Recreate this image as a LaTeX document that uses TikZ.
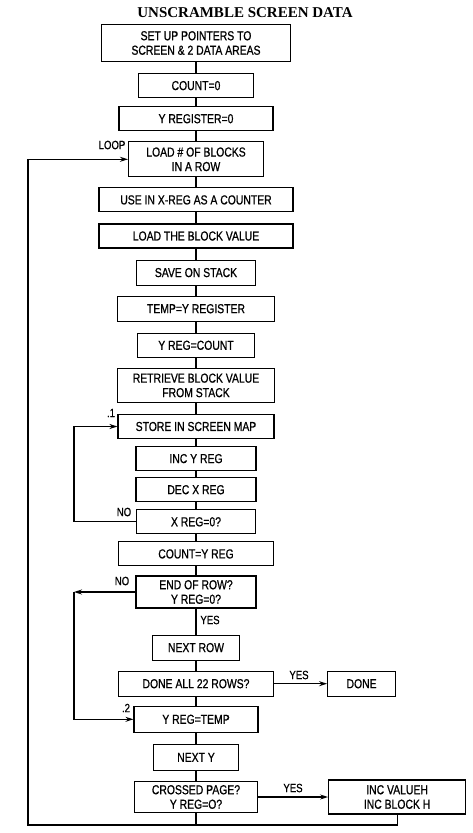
\documentclass[tikz,border=0pt]{standalone}
\usepackage{fontspec}
\setmainfont{Liberation Serif}
\newfontfamily\boxfont{Liberation Sans}[FakeStretch=0.8, FakeBold=0.8]
\usetikzlibrary{arrows.meta, positioning, calc}
\tikzset{box/.style = {
  rectangle,
  draw=black, line width=1.1pt,
  font=\boxfont\fontsize{13}{14.5}\selectfont,
  text centered, align=center,
  inner sep=1pt,
  minimum height=24pt
  }}
\tikzset{lbl/.style = {
  font=\boxfont\fontsize{12}{13}\selectfont,
  inner sep=0pt
  }}
\tikzset{link/.style = {
  line width=1.1pt,
  draw=black
  }}
\tikzset{arrow/.style = {
  link,
  -{Stealth[length=8pt,width=5pt]}
  }}

\begin{document}
\begin{tikzpicture}[x=1pt, y=-1pt]
\useasboundingbox (0,0) rectangle (473,833);

% TITLE
\node (title) [font=\bfseries\fontsize{15}{17}\selectfont, inner sep=0pt] at (245,13) {UNSCRAMBLE SCREEN DATA};

% NODES
\node (setup) [box, minimum width=189pt, minimum height=37pt] at (196,43) {SET UP POINTERS TO\\SCREEN \& 2 DATA AREAS};
\node (count0) [box, minimum width=115pt, below=11pt of setup] {COUNT=0};
\node (yreg0) [box, minimum width=154pt, below=8pt of count0] {Y REGISTER=0};
\node (loadn) [box, minimum width=135pt, minimum height=35pt, below=10pt of yreg0] {LOAD \# OF BLOCKS\\IN A ROW};
\node (usex) [box, minimum width=194pt, below=10pt of loadn] {USE IN X-REG AS A COUNTER};
\node (loadb) [box, minimum width=194pt, below=11pt of usex] {LOAD THE BLOCK VALUE};
\node (save) [box, minimum width=119pt, minimum height=25pt, below=11pt of loadb] {SAVE ON STACK};
\node (temp) [box, minimum width=157pt, minimum height=25pt, below=10pt of save] {TEMP=Y REGISTER};
\node (ycount) [box, minimum width=117pt, below=11pt of temp] {Y REG=COUNT};
\node (retr) [box, minimum width=157pt, minimum height=34pt, below=10pt of ycount] {RETRIEVE BLOCK VALUE\\FROM STACK};
\node (store) [box, minimum width=156pt, below=11pt of retr] {STORE IN SCREEN MAP};
\node (incy) [box, minimum width=120pt, below=7pt of store] {INC Y REG};
\node (decx) [box, minimum width=120pt, below=6pt of incy] {DEC X REG};
\node (xreg) [box, minimum width=119pt, below=7pt of decx] {X REG=0?};
\node (county) [box, minimum width=155pt, below=7pt of xreg] {COUNT=Y REG};
\node (endrow) [box, minimum width=120pt, minimum height=32pt, below=9pt of county] {END OF ROW?\\Y REG=0?};
\node (nextrow) [box, minimum width=87pt, minimum height=25pt, below=26pt of endrow] {NEXT ROW};
\node (done22) [box, minimum width=155pt, minimum height=25pt, below=10pt of nextrow] {DONE ALL 22 ROWS?};
\node (done) [box, minimum width=68pt, minimum height=25pt, right=53pt of done22] {DONE};
\node (ytemp) [box, minimum width=124pt, minimum height=26pt, below=9pt of done22] {Y REG=TEMP};
\node (nexty) [box, minimum width=85pt, minimum height=26pt, below=11pt of ytemp] {NEXT Y};
\node (crossed) [box, minimum width=123pt, minimum height=31pt, below=10pt of nexty] {CROSSED PAGE?\\Y REG=O?};
\node (incv) [box, minimum width=137pt, minimum height=34pt, right=70pt of crossed] {INC VALUEH\\INC BLOCK H};

% LABELS
\node (looplbl) [lbl] at (112,145) {LOOP};
\node (one) [lbl] at (111,413) {.1};
\node (noxreg) [lbl] at (124,512) {NO};
\node (noend) [lbl] at (122,581) {NO};
\node (yesend) [lbl] at (210,620) {YES};
\node (yesdone) [lbl] at (299,675) {YES};
\node (two) [lbl] at (126,708) {.2};
\node (yescross) [lbl] at (293,788) {YES};

% turning points
\coordinate (lft) at (74,0);
\coordinate (outer) at (28,825);

% main chain
\foreach \a/\b in {setup/count0, count0/yreg0, yreg0/loadn, loadn/usex, usex/loadb,
  loadb/save, save/temp, temp/ycount, ycount/retr, retr/store, store/incy, incy/decx,
  decx/xreg, xreg/county, county/endrow, endrow/nextrow, nextrow/done22, done22/ytemp,
  ytemp/nexty, nexty/crossed}
  \draw [link] (\a) -- (\b);

% arrows
\draw [arrow] (done22) -- (done);
\draw [arrow] (crossed) -- (incv);

\draw [arrow] (xreg.west) -- (xreg.west -| lft) |- (store.west);
\draw [arrow] (endrow.west) -- (endrow.west -| lft);
\draw [arrow] (endrow.west -| lft) |- (ytemp.west);

\draw [link] (incv.south) -- (incv.south |- outer) -- (crossed.south |- outer);
\draw [arrow] (crossed.south) -- (crossed.south |- outer) -- (outer) |- (loadn.west);
\end{tikzpicture}
\end{document}
